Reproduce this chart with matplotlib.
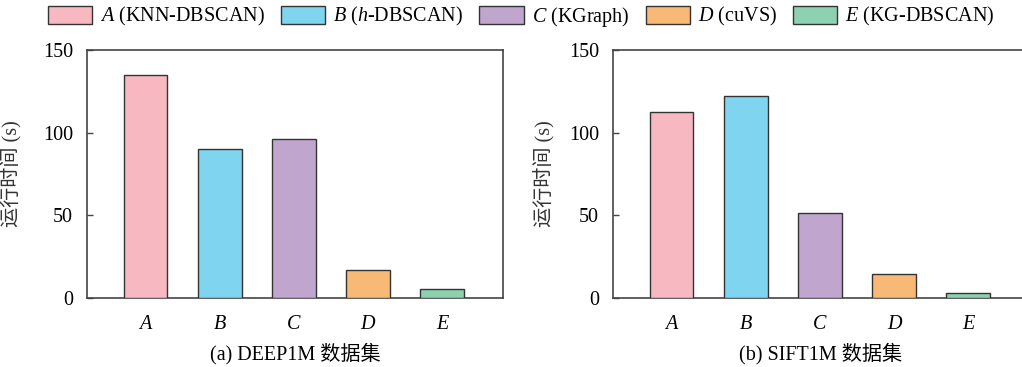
import matplotlib
matplotlib.use("Agg")
import matplotlib.pyplot as plt
from matplotlib.patches import Patch

plt.rcParams['font.family'] = ['Liberation Serif', 'Noto Sans CJK SC']
plt.rcParams['mathtext.fontset'] = 'custom'
plt.rcParams['mathtext.rm'] = 'Liberation Serif'
plt.rcParams['mathtext.it'] = 'Liberation Serif:italic'

categories = ['A', 'B', 'C', 'D', 'E']
legend_labels = ['$A$ (KNN-DBSCAN)', '$B$ ($h$-DBSCAN)', '$C$ (KGraph)', '$D$ (cuVS)', '$E$ (KG-DBSCAN)']
deep1m = [135, 90, 96, 17, 5.5]
sift1m = [112.5, 122, 51.5, 14.5, 3]
colors = ['#F8B8C1', '#7FD4EF', '#C0A6CE', '#F8B976', '#8DD1B1']
subtitles = ['(a) DEEP1M 数据集', '(b) SIFT1M 数据集']
yticks = [0, 50, 100, 150]

fs = 14.5
fig = plt.figure(figsize=(10.22, 3.67), dpi=100)
axes = [fig.add_axes([0.0851, 0.188, 0.407, 0.676]),
        fig.add_axes([0.5998, 0.188, 0.407, 0.676])]

for ax, vals, sub, lx in zip(axes, [deep1m, sift1m], subtitles, [-0.156, -0.139]):
    x = range(len(categories))
    ax.bar(x, vals, width=0.59, color=colors, edgecolor='#333333', linewidth=1.0, zorder=3)
    ax.set_xlim(-0.79, 4.82)
    ax.set_ylim(0, 150)
    ax.set_yticks(yticks)
    ax.set_yticklabels([str(t) for t in yticks], fontsize=fs)
    ax.set_xticks(list(x))
    ax.set_xticklabels(categories, fontsize=fs, fontstyle='italic')
    ax.tick_params(axis='y', direction='in', length=4, width=1, color='#444444', pad=10)
    ax.tick_params(axis='x', length=0, pad=12)
    for s in ax.spines.values():
        s.set_color('#444444')
        s.set_linewidth(1.2)
    ax.set_ylabel('运行时间 (s)', fontsize=fs, color='#333333')
    ax.yaxis.set_label_coords(lx, 0.5)
    ax.text(0.5, -0.226, sub, transform=ax.transAxes, ha='center', va='center', fontsize=fs)

axes[1].spines['right'].set_visible(False)

handles = [Patch(facecolor=c, edgecolor='#333333', linewidth=1.0) for c in colors]
fig.legend(handles, legend_labels, loc='center', bbox_to_anchor=(0.51, 0.954), ncol=5,
           frameon=False, fontsize=fs, handlelength=2.2, handleheight=1.0,
           handletextpad=0.4, columnspacing=0.8, borderpad=0, borderaxespad=0)

fig.savefig('out.png', dpi=100)
